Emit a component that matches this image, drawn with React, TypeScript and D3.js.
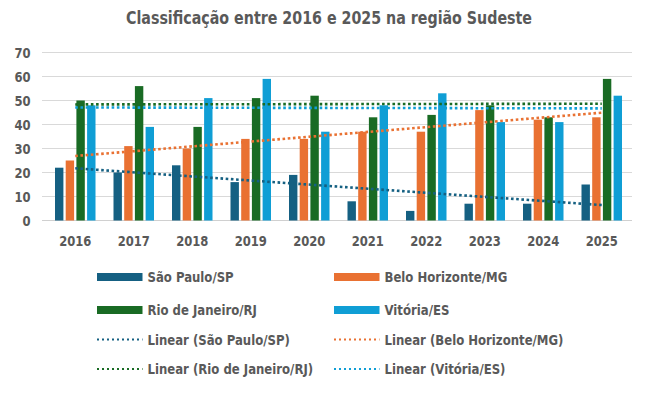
import React from "react";
import * as d3 from "d3";

const years = ["2016", "2017", "2018", "2019", "2020", "2021", "2022", "2023", "2024", "2025"];
const seriesNames = ["São Paulo/SP", "Belo Horizonte/MG", "Rio de Janeiro/RJ", "Vitória/ES"];
const saoPaulo = [22, 20, 23, 16, 19, 8, 4, 7, 7, 15];
const beloHorizonte = [25, 31, 30, 34, 34, 37, 37, 46, 42, 43];
const rioDeJaneiro = [50, 56, 39, 51, 52, 43, 44, 48, 43, 59];
const vitoria = [48, 39, 51, 59, 37, 48, 53, 41, 41, 52];
const colors = ["#156082", "#E97132", "#196B24", "#0F9ED5"];
const yTicks = [0, 10, 20, 30, 40, 50, 60, 70];
const title = "Classificação entre 2016 e 2025 na região Sudeste";

const W = 652;
const H = 397;
const FONT = "'DejaVu Sans Condensed', 'DejaVu Sans', sans-serif";
const TXT = "#595959";

function linReg(vals: number[]) {
  const n = vals.length;
  const xs = vals.map((_, i) => i);
  const mx = d3.mean(xs)!;
  const my = d3.mean(vals)!;
  let sxy = 0, sxx = 0;
  xs.forEach((x, i) => {
    sxy += (x - mx) * (vals[i] - my);
    sxx += (x - mx) * (x - mx);
  });
  const b = sxy / sxx;
  const a = my - b * mx;
  return { a, b, n };
}

function T(props: { x: number; y: number; sx: number; size: number; anchor?: string; children: React.ReactNode }) {
  const { x, y, sx, size, anchor, children } = props;
  return (
    <text
      transform={`translate(${x},${y}) scale(${sx},1)`}
      textAnchor={anchor || "start"}
      fontSize={size}
      fontWeight="bold"
      fill={TXT}
    >
      {children}
    </text>
  );
}

export default function App() {
  const data = [saoPaulo, beloHorizonte, rioDeJaneiro, vitoria];
  const x = d3.scaleBand<string>().domain(years).range([46, 631]).padding(0);
  const x1 = d3.scaleBand<string>().domain(seriesNames).range([-20.25, 20.25]).paddingInner(0.215).paddingOuter(0);
  const y = d3.scaleLinear().domain([0, 70]).range([220.5, 52.5]);
  const cx = (yr: string) => (x(yr) as number) + x.bandwidth() / 2;

  const legendRows = [
    [{ kind: "bar", i: 0 }, { kind: "bar", i: 1 }],
    [{ kind: "bar", i: 2 }, { kind: "bar", i: 3 }],
    [{ kind: "line", i: 0 }, { kind: "line", i: 1 }],
    [{ kind: "line", i: 2 }, { kind: "line", i: 3 }],
  ];
  const rowY = [277, 310, 339.5, 369];
  const colX = [97, 334];

  return (
    <svg width={W} height={H} style={{ position: "absolute", left: 0, top: 0, background: "#fff" }} fontFamily={FONT}>
      <rect x={0} y={0} width={W} height={H} fill="#fff" />
      <T x={329} y={24} sx={0.905} size={17.5} anchor="middle">{title}</T>
      {yTicks.map((t) => (
        <g key={t}>
          <line x1={42} x2={632} y1={y(t)} y2={y(t)} stroke={t === 0 ? "#d0d0d0" : "#d9d9d9"} strokeWidth={1} />
          <T x={30.5} y={y(t) + 5} sx={0.92} size={14} anchor="end">{t}</T>
        </g>
      ))}
      {data.map((vals, si) =>
        vals.map((v, i) => (
          <rect
            key={si + "-" + i}
            x={cx(years[i]) + (x1(seriesNames[si]) as number)}
            y={y(v)}
            width={x1.bandwidth()}
            height={y(0) - y(v)}
            fill={colors[si]}
          />
        ))
      )}
      {data.map((vals, si) => {
        const { a, b, n } = linReg(vals);
        return (
          <line
            key={"t" + si}
            x1={cx(years[0])}
            x2={cx(years[n - 1])}
            y1={y(a)}
            y2={y(a + b * (n - 1))}
            stroke={colors[si]}
            strokeWidth={2.6}
            strokeDasharray="2.6 2.6"
          />
        );
      })}
      {years.map((yr) => (
        <T key={yr} x={cx(yr)} y={246} sx={0.92} size={14} anchor="middle">{yr}</T>
      ))}
      {legendRows.map((row, ri) =>
        row.map((it, ci) => {
          const lx = colX[ci];
          const ly = rowY[ri];
          const label = it.kind === "bar" ? seriesNames[it.i] : `Linear (${seriesNames[it.i]})`;
          return (
            <g key={ri + "-" + ci}>
              {it.kind === "bar" ? (
                <rect x={lx} y={ly - 4} width={45.5} height={8} fill={colors[it.i]} />
              ) : (
                <line x1={lx} x2={lx + 45.5} y1={ly} y2={ly} stroke={colors[it.i]} strokeWidth={2} strokeDasharray="2 3" />
              )}
              <T x={lx + 50.5} y={ly + 5} sx={0.93} size={14}>{label}</T>
            </g>
          );
        })
      )}
    </svg>
  );
}
